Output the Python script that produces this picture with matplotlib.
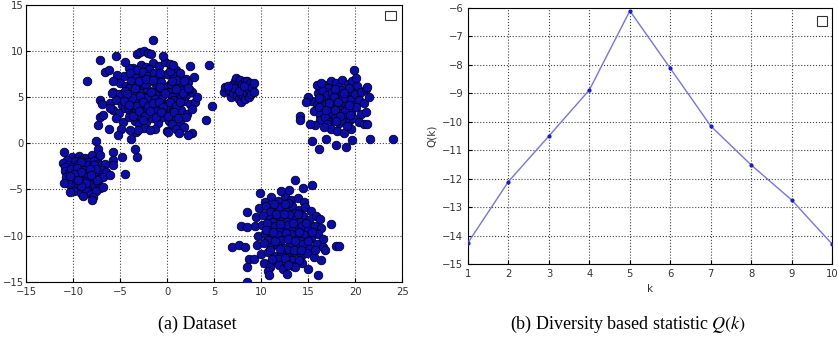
import numpy as np
import matplotlib
matplotlib.use("Agg")
import matplotlib.pyplot as plt
from matplotlib.patches import Rectangle

plt.rcParams['mathtext.fontset'] = 'stix'

# cluster points (x, y)
cluster_a = [
    (-3.6, 8.2), (-2.8, 8.5), (-2.2, 8.3), (-1.5, 8.7), (-0.9, 8.4), (-0.2, 8.8), (0.4, 8.2), (-3.2, 7.9), (-1.9, 8.0), (1.0, 7.9), (-4.1, 8.1),
    (-4.6, 7.3), (-3.9, 7.6), (-3.3, 7.1), (-2.6, 7.7), (-2.0, 7.3), (-1.4, 7.6), (-0.7, 7.2), (0.0, 7.5), (0.7, 7.3), (1.4, 7.6), (2.0, 7.0), (-5.3, 7.4), (-1.1, 7.0), (0.3, 7.8),
    (-5.0, 6.5), (-4.4, 6.2), (-3.8, 6.8), (-3.1, 6.4), (-2.5, 6.1), (-1.9, 6.7), (-1.2, 6.3), (-0.6, 6.6), (0.1, 6.2), (0.8, 6.5), (1.5, 6.2), (2.2, 6.6), (-2.8, 6.9), (-0.3, 6.0), (1.1, 6.9), (-4.0, 6.0),
    (-5.7, 5.6), (-5.1, 5.3), (-4.5, 5.7), (-3.9, 5.2), (-3.3, 5.8), (-2.7, 5.4), (-2.1, 5.9), (-1.6, 5.3), (-1.0, 5.7), (-0.4, 5.2), (0.2, 5.6), (0.8, 5.3), (1.4, 5.8), (2.0, 5.2), (2.6, 5.6), (-2.4, 5.0), (-0.7, 5.95), (0.5, 5.05), (-3.6, 5.5),
    (-6.1, 4.4), (-5.4, 4.7), (-4.8, 4.2), (-4.2, 4.8), (-3.6, 4.3), (-3.0, 4.7), (-2.4, 4.2), (-1.8, 4.6), (-1.2, 4.1), (-0.6, 4.8), (0.0, 4.3), (0.6, 4.7), (1.2, 4.2), (1.8, 4.6), (2.4, 4.3), (3.0, 4.5), (-2.1, 4.9), (-0.3, 4.05), (1.5, 4.9),
    (-5.8, 3.6), (-5.1, 3.3), (-4.5, 3.8), (-3.9, 3.2), (-3.3, 3.7), (-2.7, 3.3), (-2.1, 3.8), (-1.5, 3.2), (-0.9, 3.7), (-0.3, 3.3), (0.3, 3.8), (0.9, 3.2), (1.5, 3.6), (2.1, 3.2), (2.7, 3.7), (-4.2, 3.95), (-1.2, 3.5), (0.6, 3.5),
    (-5.4, 2.7), (-4.7, 2.3), (-4.1, 2.8), (-3.4, 2.4), (-2.8, 2.9), (-2.2, 2.3), (-1.6, 2.7), (-1.0, 2.2), (-0.4, 2.8), (0.2, 2.4), (0.8, 2.8), (1.4, 2.3), (2.0, 2.9), (-3.0, 2.05), (0.5, 2.1),
    (-4.9, 1.6), (-2.5, 1.7), (-1.3, 1.5), (0.0, 1.3), (1.0, 1.6), (1.8, 1.8), (-3.3, 1.2),
    # denser core
    (-3.4, 6.0), (-2.9, 5.1), (-2.3, 6.4), (-1.7, 5.6), (-1.3, 4.8), (-0.8, 6.1), (-0.2, 5.5), (0.4, 6.4), (1.0, 5.9), (1.7, 5.4),
    (-3.7, 4.9), (-3.2, 4.0), (-2.6, 4.5), (-2.0, 4.0), (-1.5, 4.4), (-0.9, 4.5), (-0.4, 3.9), (0.3, 4.5), (0.9, 4.0), (1.4, 4.5),
    (-3.6, 3.0), (-3.0, 3.5), (-2.4, 3.0), (-1.8, 3.5), (-1.2, 2.9), (-0.6, 3.4), (0.1, 3.0), (0.7, 3.4), (1.2, 2.7), (-2.6, 2.5),
    (-4.3, 5.3), (-4.6, 4.6), (-4.0, 4.1), (-3.0, 6.7), (-2.2, 7.0), (-1.5, 6.9), (-0.8, 7.6), (0.5, 6.8), (1.8, 6.8), (2.3, 5.9),
    (-1.5, 11.2), (-8.5, 6.8), (-7.1, 9.0), (-6.6, 7.7), (-6.2, 7.9), (-5.4, 9.4), (-4.5, 8.8), (-3.25, 9.7), (-2.9, 9.9), (-2.5, 10.0), (-2.0, 9.8), (-1.7, 9.7),
    (-0.4, 9.5), (0.3, 8.6), (0.6, 8.5), (2.4, 8.4), (4.5, 8.5), (2.9, 7.2), (2.2, 6.0), (3.2, 5.0), (4.8, 4.0), (4.1, 2.5), (2.7, 1.1), (2.2, 0.9), (1.3, 1.1),
    (0.1, 1.2), (-1.8, 1.4), (-3.1, 1.4), (-3.9, 1.4), (-5.2, 0.9), (-3.8, 0.5), (-3.4, -0.6), (-3.2, -1.5), (-4.8, -1.5), (-4.5, -3.3), (-5.7, -0.9),
    (-6.2, 1.6), (-7.3, 2.0), (-7.1, 2.9), (-6.8, 3.1), (-7.1, 4.7), (-6.9, 4.3), (-6.1, 3.8), (-5.9, 5.4), (-5.7, 6.7),
]

cluster_b = [
    (-10.1, -1.5), (-9.4, -1.4), (-8.7, -1.6), (-8.0, -1.3), (-7.5, -1.7), (-9.8, -1.9), (-9.1, -1.8), (-8.4, -2.0), (-7.8, -1.9), (-10.6, -1.8),
    (-11.1, -2.1), (-10.5, -2.3), (-10.0, -2.6), (-9.5, -2.2), (-9.0, -2.5), (-8.5, -2.3), (-8.0, -2.6), (-7.5, -2.2), (-7.0, -2.4), (-6.6, -2.2), (-10.8, -2.6), (-9.2, -2.05), (-7.8, -2.4),
    (-10.9, -3.0), (-10.4, -3.2), (-9.9, -2.9), (-9.4, -3.3), (-8.9, -2.9), (-8.4, -3.2), (-7.9, -3.0), (-7.4, -3.3), (-6.9, -2.9), (-6.5, -3.1), (-10.2, -2.75), (-8.7, -3.35), (-7.6, -2.8), (-9.6, -3.4),
    (-10.7, -3.6), (-10.2, -3.9), (-9.7, -3.6), (-9.2, -3.9), (-8.7, -3.6), (-8.2, -3.9), (-7.7, -3.6), (-7.2, -3.9), (-6.8, -3.6), (-10.0, -4.1), (-8.9, -4.1), (-7.9, -4.15), (-9.4, -3.5),
    (-10.4, -4.4), (-9.8, -4.6), (-9.3, -4.3), (-8.8, -4.7), (-8.3, -4.4), (-7.8, -4.7), (-7.3, -4.3), (-9.6, -4.8), (-8.5, -4.95), (-7.1, -4.8),
    (-9.9, -5.2), (-9.2, -5.4), (-8.6, -5.1), (-8.1, -5.5), (-7.6, -5.2), (-8.9, -5.7), (-7.9, -5.8),
    (-9.6, -2.7), (-9.1, -3.1), (-8.2, -2.8), (-9.9, -3.3), (-8.6, -4.3), (-9.1, -4.6), (-7.5, -4.0), (-10.3, -3.5), (-8.1, -3.4), (-9.5, -4.0),
    (-11.0, -0.9), (-11.0, -4.35), (-10.3, -5.25), (-8.0, -6.15), (-7.6, 0.2), (-7.3, -0.6), (-7.1, -1.3), (-5.7, -1.8), (-5.7, -2.4), (-6.1, -3.4), (-6.8, -4.7),
]

cluster_c = [
    (6.1, 5.6), (6.2, 6.1), (6.6, 5.8), (6.8, 5.0), (6.9, 6.3), (7.0, 5.5), (7.2, 6.8), (7.3, 7.1), (7.3, 5.9), (7.4, 5.2), (7.5, 6.4), (7.6, 4.8),
    (7.7, 6.0), (7.8, 6.9), (7.8, 5.5), (7.9, 4.5), (8.0, 6.4), (8.1, 5.1), (8.1, 5.8), (8.3, 6.7), (8.3, 4.8), (8.4, 6.1), (8.5, 5.4), (8.5, 6.8),
    (8.7, 5.0), (8.7, 5.9), (8.8, 6.5), (8.9, 5.3), (9.0, 6.1), (9.2, 6.5), (9.2, 5.6), (7.1, 6.0), (7.6, 5.65), (8.2, 6.25), (6.5, 6.2),
]

cluster_d = [
    (16.8, 6.3), (17.4, 6.7), (18.0, 6.5), (18.6, 6.9), (19.2, 6.4), (19.7, 6.8), (17.1, 6.0), (18.3, 6.1), (20.2, 6.2),
    (16.0, 5.4), (16.5, 5.8), (17.0, 5.2), (17.5, 5.6), (18.0, 5.3), (18.5, 5.8), (19.0, 5.2), (19.5, 5.7), (20.0, 5.3), (20.6, 5.6), (21.1, 5.9), (17.8, 5.9), (19.3, 5.95),
    (15.4, 4.6), (15.9, 4.2), (16.4, 4.8), (16.9, 4.3), (17.4, 4.7), (17.9, 4.2), (18.4, 4.8), (18.9, 4.3), (19.4, 4.7), (19.9, 4.2), (20.4, 4.7), (20.9, 4.4), (17.6, 4.05), (18.7, 4.95), (16.2, 4.9),
    (15.6, 3.5), (16.1, 3.9), (16.6, 3.3), (17.1, 3.8), (17.6, 3.4), (18.1, 3.9), (18.6, 3.3), (19.1, 3.8), (19.6, 3.4), (20.1, 3.9), (20.6, 3.2), (17.3, 3.05), (18.9, 3.55), (16.3, 3.1),
    (16.3, 2.5), (16.8, 2.8), (17.3, 2.3), (17.8, 2.7), (18.3, 2.2), (18.8, 2.8), (19.3, 2.4), (19.8, 2.7), (20.4, 2.3), (20.9, 2.1), (17.0, 2.05), (18.5, 2.55),
    (17.4, 1.6), (18.1, 1.3), (18.8, 1.1), (19.5, 1.6), (16.7, 1.8), (19.1, 1.9),
    (17.7, 5.0), (18.2, 4.5), (18.8, 5.5), (19.3, 4.1), (17.2, 4.4), (17.8, 3.6), (18.4, 3.0), (19.4, 3.1), (16.9, 3.6), (18.0, 2.4),
    (24.0, 0.5), (21.6, 0.5), (19.9, 7.9), (20.1, 7.1), (19.7, 0.35), (19.0, -0.4), (18.0, -0.2), (16.9, 0.5), (16.2, -0.6), (15.4, 0.3),
    (14.1, 3.0), (14.1, 2.5), (15.0, 5.0), (14.8, 4.5), (15.7, 2.0), (15.2, 2.1), (21.3, 2.1), (21.3, 6.1), (21.5, 5.0), (21.1, 3.4), (15.9, 6.3), (16.4, 6.5),
]

cluster_e = [
    (11.0, -5.8), (11.8, -6.2), (12.5, -5.7), (13.2, -6.1), (13.9, -5.9), (10.4, -6.3), (14.6, -6.4), (12.1, -5.2), (13.0, -5.1),
    (9.8, -7.0), (10.5, -6.8), (11.2, -7.2), (11.9, -6.9), (12.6, -7.3), (13.3, -6.8), (14.0, -7.2), (14.7, -6.9), (15.3, -7.3), (10.9, -7.45), (13.6, -7.5),
    (9.5, -8.0), (10.2, -7.8), (10.9, -8.2), (11.6, -7.9), (12.3, -8.3), (13.0, -7.8), (13.7, -8.2), (14.4, -7.9), (15.1, -8.3), (15.8, -7.9), (16.3, -8.2), (11.3, -8.5), (12.7, -8.5), (14.1, -8.55),
    (9.4, -9.0), (10.1, -8.8), (10.8, -9.2), (11.5, -8.9), (12.2, -9.3), (12.9, -8.8), (13.6, -9.2), (14.3, -8.9), (15.0, -9.3), (15.7, -8.9), (16.4, -9.2), (11.9, -9.45), (13.3, -9.5),
    (9.7, -10.0), (10.4, -9.8), (11.1, -10.2), (11.8, -9.9), (12.5, -10.3), (13.2, -9.8), (13.9, -10.2), (14.6, -9.9), (15.3, -10.3), (16.0, -9.8), (16.6, -10.4), (10.7, -10.5), (12.1, -10.5), (14.2, -10.55),
    (9.6, -11.0), (10.3, -10.8), (11.0, -11.2), (11.7, -10.9), (12.4, -11.3), (13.1, -10.8), (13.8, -11.2), (14.5, -10.9), (15.2, -11.3), (15.9, -10.9), (16.6, -11.2), (12.8, -11.5),
    (10.0, -12.0), (10.7, -11.8), (11.4, -12.2), (12.1, -11.9), (12.8, -12.3), (13.5, -11.8), (14.2, -12.2), (14.9, -11.9), (15.6, -12.3), (11.8, -12.5), (13.3, -12.6),
    (10.3, -13.0), (11.1, -12.8), (11.9, -13.2), (12.6, -12.9), (13.4, -13.3), (14.3, -13.0), (10.9, -13.4), (12.3, -13.6),
    # denser core
    (11.4, -6.6), (12.9, -6.5), (11.6, -7.6), (12.4, -7.7), (13.9, -7.6), (10.6, -8.6), (12.0, -8.7), (13.4, -8.6), (14.8, -8.6),
    (10.5, -9.4), (11.3, -9.6), (12.6, -9.7), (14.0, -9.6), (15.4, -9.6), (11.5, -10.6), (12.9, -10.4), (13.6, -10.6), (15.0, -10.6),
    (10.9, -11.6), (12.0, -11.4), (13.5, -11.5), (14.2, -11.6), (11.2, -12.5), (12.5, -12.4), (14.0, -12.6), (12.5, -6.6),
    (13.6, -4.0), (14.5, -4.8), (15.4, -4.5), (9.9, -5.4), (8.5, -7.4), (7.9, -9.0), (8.5, -9.1), (6.9, -11.2), (7.6, -11.0), (8.3, -11.2),
    (8.7, -12.5), (9.2, -12.5), (8.5, -13.4), (8.5, -15.0), (10.7, -13.8), (10.8, -14.3), (12.7, -14.2), (15.0, -13.6), (16.0, -14.3),
    (16.4, -12.6), (17.4, -8.7), (18.0, -11.1), (18.3, -11.1), (16.8, -11.6), (15.7, -11.5), (13.6, -13.4), (12.9, -13.2),
]

k = [1, 2, 3, 4, 5, 6, 7, 8, 9, 10]
q_k = [-14.25, -12.1, -10.5, -8.88, -6.1, -8.12, -10.15, -11.52, -12.75, -14.3]

tick_kw = dict(direction='in', labelsize=7.2, labelcolor='#333333', length=3)

fig = plt.figure(figsize=(8.38, 3.4), dpi=100)

ax1 = fig.add_axes([0.031, 0.171, 0.449, 0.815])
pts = np.array(cluster_a + cluster_b + cluster_c + cluster_d + cluster_e)
ax1.scatter(pts[:, 0], pts[:, 1], s=38, c='#0c0ca8', edgecolors='#000022', linewidths=0.6, zorder=3)
ax1.set_xlim(-15, 25)
ax1.set_ylim(-15, 15)
ax1.set_xticks(range(-15, 26, 5))
ax1.set_yticks(range(-15, 16, 5))
ax1.grid(True, linestyle=':', color='#444444', linewidth=0.8)
ax1.tick_params(**tick_kw)
ax1.tick_params(axis='y', pad=1.5)
ax1.add_patch(Rectangle((0.955, 0.945), 0.028, 0.033, transform=ax1.transAxes,
                        fill=False, edgecolor='#333333', linewidth=0.8, zorder=5))

ax2 = fig.add_axes([0.5585, 0.2235, 0.4345, 0.753])
ax2.plot(k, q_k, color='#7474e8', linewidth=1.0, marker='.', markersize=4,
         markerfacecolor='#1a1ad0', markeredgecolor='#1a1ad0', zorder=3)
ax2.set_xlim(1, 10)
ax2.set_ylim(-15, -6)
ax2.set_xticks(k)
ax2.set_yticks(range(-15, -5))
ax2.grid(True, linestyle=':', color='#444444', linewidth=0.8)
ax2.tick_params(**tick_kw)
ax2.set_xlabel('k', fontsize=7.5, color='#333333', labelpad=4)
ax2.set_ylabel('Q(k)', fontsize=7.5, color='#333333', labelpad=4)
ax2.add_patch(Rectangle((0.958, 0.93), 0.028, 0.037, transform=ax2.transAxes,
                        fill=False, edgecolor='#333333', linewidth=0.8, zorder=5))

fig.text(0.236, 0.045, '(a) Dataset', ha='center', va='center',
         family='Liberation Serif', fontsize=13)
fig.text(0.75, 0.045, r'(b) Diversity based statistic $Q(k)$', ha='center', va='center',
         family='Liberation Serif', fontsize=13)

fig.savefig('out.png', dpi=100)
